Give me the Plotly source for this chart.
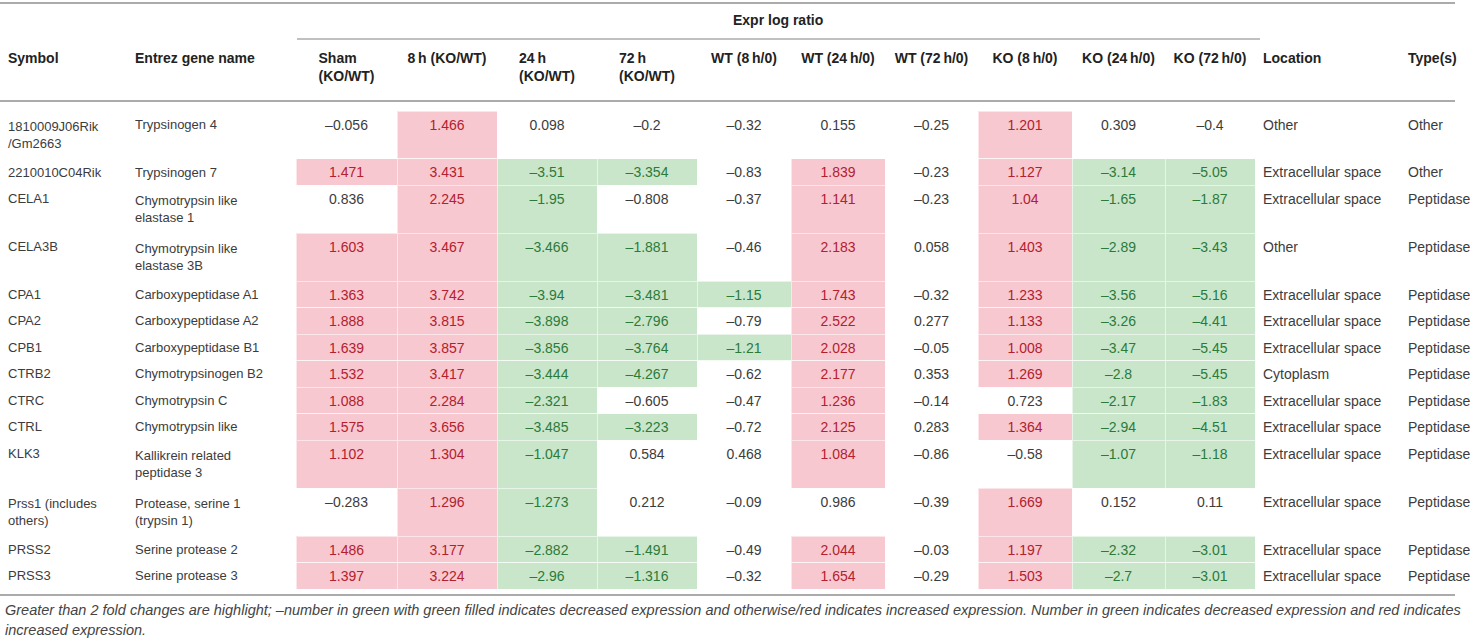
import plotly.graph_objects as go

# Table data
symbols = ["1810009J06Rik<br>/Gm2663", "2210010C04Rik", "CELA1", "CELA3B", "CPA1", "CPA2",
           "CPB1", "CTRB2", "CTRC", "CTRL", "KLK3", "Prss1 (includes<br>others)", "PRSS2", "PRSS3"]
gene_names = ["Trypsinogen 4", "Trypsinogen 7", "Chymotrypsin like<br>elastase 1",
              "Chymotrypsin like<br>elastase 3B", "Carboxypeptidase A1", "Carboxypeptidase A2",
              "Carboxypeptidase B1", "Chymotrypsinogen B2", "Chymotrypsin C", "Chymotrypsin like",
              "Kallikrein related<br>peptidase 3", "Protease, serine 1<br>(trypsin 1)",
              "Serine protease 2", "Serine protease 3"]

sham_ko_wt = [-0.056, 1.471, 0.836, 1.603, 1.363, 1.888, 1.639, 1.532, 1.088, 1.575, 1.102, -0.283, 1.486, 1.397]
h8_ko_wt = [1.466, 3.431, 2.245, 3.467, 3.742, 3.815, 3.857, 3.417, 2.284, 3.656, 1.304, 1.296, 3.177, 3.224]
h24_ko_wt = [0.098, -3.51, -1.95, -3.466, -3.94, -3.898, -3.856, -3.444, -2.321, -3.485, -1.047, -1.273, -2.882, -2.96]
h72_ko_wt = [-0.2, -3.354, -0.808, -1.881, -3.481, -2.796, -3.764, -4.267, -0.605, -3.223, 0.584, 0.212, -1.491, -1.316]
wt_8h = [-0.32, -0.83, -0.37, -0.46, -1.15, -0.79, -1.21, -0.62, -0.47, -0.72, 0.468, -0.09, -0.49, -0.32]
wt_24h = [0.155, 1.839, 1.141, 2.183, 1.743, 2.522, 2.028, 2.177, 1.236, 2.125, 1.084, 0.986, 2.044, 1.654]
wt_72h = [-0.25, -0.23, -0.23, 0.058, -0.32, 0.277, -0.05, 0.353, -0.14, 0.283, -0.86, -0.39, -0.03, -0.29]
ko_8h = [1.201, 1.127, 1.04, 1.403, 1.233, 1.133, 1.008, 1.269, 0.723, 1.364, -0.58, 1.669, 1.197, 1.503]
ko_24h = [0.309, -3.14, -1.65, -2.89, -3.56, -3.26, -3.47, -2.8, -2.17, -2.94, -1.07, 0.152, -2.32, -2.7]
ko_72h = [-0.4, -5.05, -1.87, -3.43, -5.16, -4.41, -5.45, -5.45, -1.83, -4.51, -1.18, 0.11, -3.01, -3.01]

locations = ["Other", "Extracellular space", "Extracellular space", "Other", "Extracellular space",
             "Extracellular space", "Extracellular space", "Cytoplasm", "Extracellular space",
             "Extracellular space", "Extracellular space", "Extracellular space",
             "Extracellular space", "Extracellular space"]
types = ["Other", "Other"] + ["Peptidase"] * 12

NB, TH = "\u00a0", "\u2009"
headers = ["Symbol", "Entrez gene name", "Sham<br>(KO/WT)", "8" + TH + "h" + NB + "(KO/WT)",
           "24" + TH + "h<br>(KO/WT)", "72" + TH + "h<br>(KO/WT)",
           "WT" + NB + "(8" + TH + "h/0)", "WT" + NB + "(24" + TH + "h/0)", "WT" + NB + "(72" + TH + "h/0)",
           "KO" + NB + "(8" + TH + "h/0)", "KO" + NB + "(24" + TH + "h/0)", "KO" + NB + "(72" + TH + "h/0)",
           "Location", "Type(s)"]

ratio_cols = [sham_ko_wt, h8_ko_wt, h24_ko_wt, h72_ko_wt, wt_8h, wt_24h, wt_72h, ko_8h, ko_24h, ko_72h]

# colours
PINK, GREEN_FILL = "#f8c8d0", "#c9e6cb"
RED_TXT, GREEN_TXT, TXT = "#b3202f", "#2c7a3a", "#3c3c3c"
RULE = "#ababab"
FONT = "Liberation Sans, Arial"

W, H = 1476, 643


def fill_for(v):
    if v >= 1:
        return PINK
    if v <= -1:
        return GREEN_FILL
    return "white"


def color_for(v):
    if v >= 1:
        return RED_TXT
    if v <= -1:
        return GREEN_TXT
    return TXT


def fmt(v):
    return repr(v).replace("-", "\u2013")


n = len(symbols)
values = [symbols, gene_names] + [[fmt(v) for v in col] for col in ratio_cols] + [locations, types]
fills = [["white"] * n] * 2 + [[fill_for(v) for v in col] for col in ratio_cols] + [["white"] * n] * 2
fonts = [[TXT] * n] * 2 + [[color_for(v) for v in col] for col in ratio_cols] + [[TXT] * n] * 2
# the wrapped text columns a touch smaller so two-line rows keep the original height
sizes = [13, 13] + [14] * 12
aligns = ["left", "left"] + ["center"] * 10 + ["left", "left"]

# column widths in pixels
col_px = [127, 169, 101, 100, 100, 100, 94, 94, 93, 94, 93, 90, 145, 76]


def py(px):
    return 1 - px / H


table = go.Table(
    domain=dict(x=[0, 1], y=[0, py(42)]),
    columnwidth=col_px,
    header=dict(
        values=["<b>%s</b>" % h for h in headers],
        align=aligns,
        fill_color="white",
        line=dict(color="white", width=0),
        font=dict(family=FONT, size=14, color="#222222"),
        height=69,
    ),
    cells=dict(
        values=values,
        align=aligns,
        fill_color=fills,
        line=dict(color="rgba(255,255,255,0.55)", width=1),
        font=dict(family=FONT, size=sizes, color=fonts),
        height=26.5,
    ),
)

fig = go.Figure(data=[table])

rules = [(3, 0, 1455, 2), (39, 297, 1260, 1.5), (101, 0, 1455, 2), (595, 0, 1455, 2)]
for y, x0, x1, w in rules:
    fig.add_shape(type="line", xref="paper", yref="paper",
                  x0=x0 / W, x1=x1 / W, y0=py(y), y1=py(y),
                  line=dict(color=RULE, width=w))

fig.add_annotation(text="<b>Expr log ratio</b>", xref="paper", yref="paper",
                   x=778 / W, y=py(20), xanchor="center", yanchor="middle", showarrow=False,
                   font=dict(family=FONT, size=14, color="#222222"))

notes = ["Greater than 2 fold changes are highlight; \u2013number in green with green filled indicates "
         "decreased expression and otherwise/red indicates increased expression. Number in green "
         "indicates decreased expression and red indicates",
         "increased expression."]
for i, line in enumerate(notes):
    fig.add_annotation(text="<i>%s</i>" % line, xref="paper", yref="paper",
                       x=3 / W, y=py(610 + 20 * i), xanchor="left", yanchor="middle",
                       showarrow=False,
                       font=dict(family=FONT, size=14.5, color="#444444"))

fig.update_layout(
    width=W, height=H,
    margin=dict(l=0, r=0, t=0, b=0),
    paper_bgcolor="white",
    plot_bgcolor="white",
)

# page body has a default 8px margin; drop it so the table sits at the window edge
fig.write_html("out.html", config={"displayModeBar": False},
               post_script="document.body.style.margin='0';")
